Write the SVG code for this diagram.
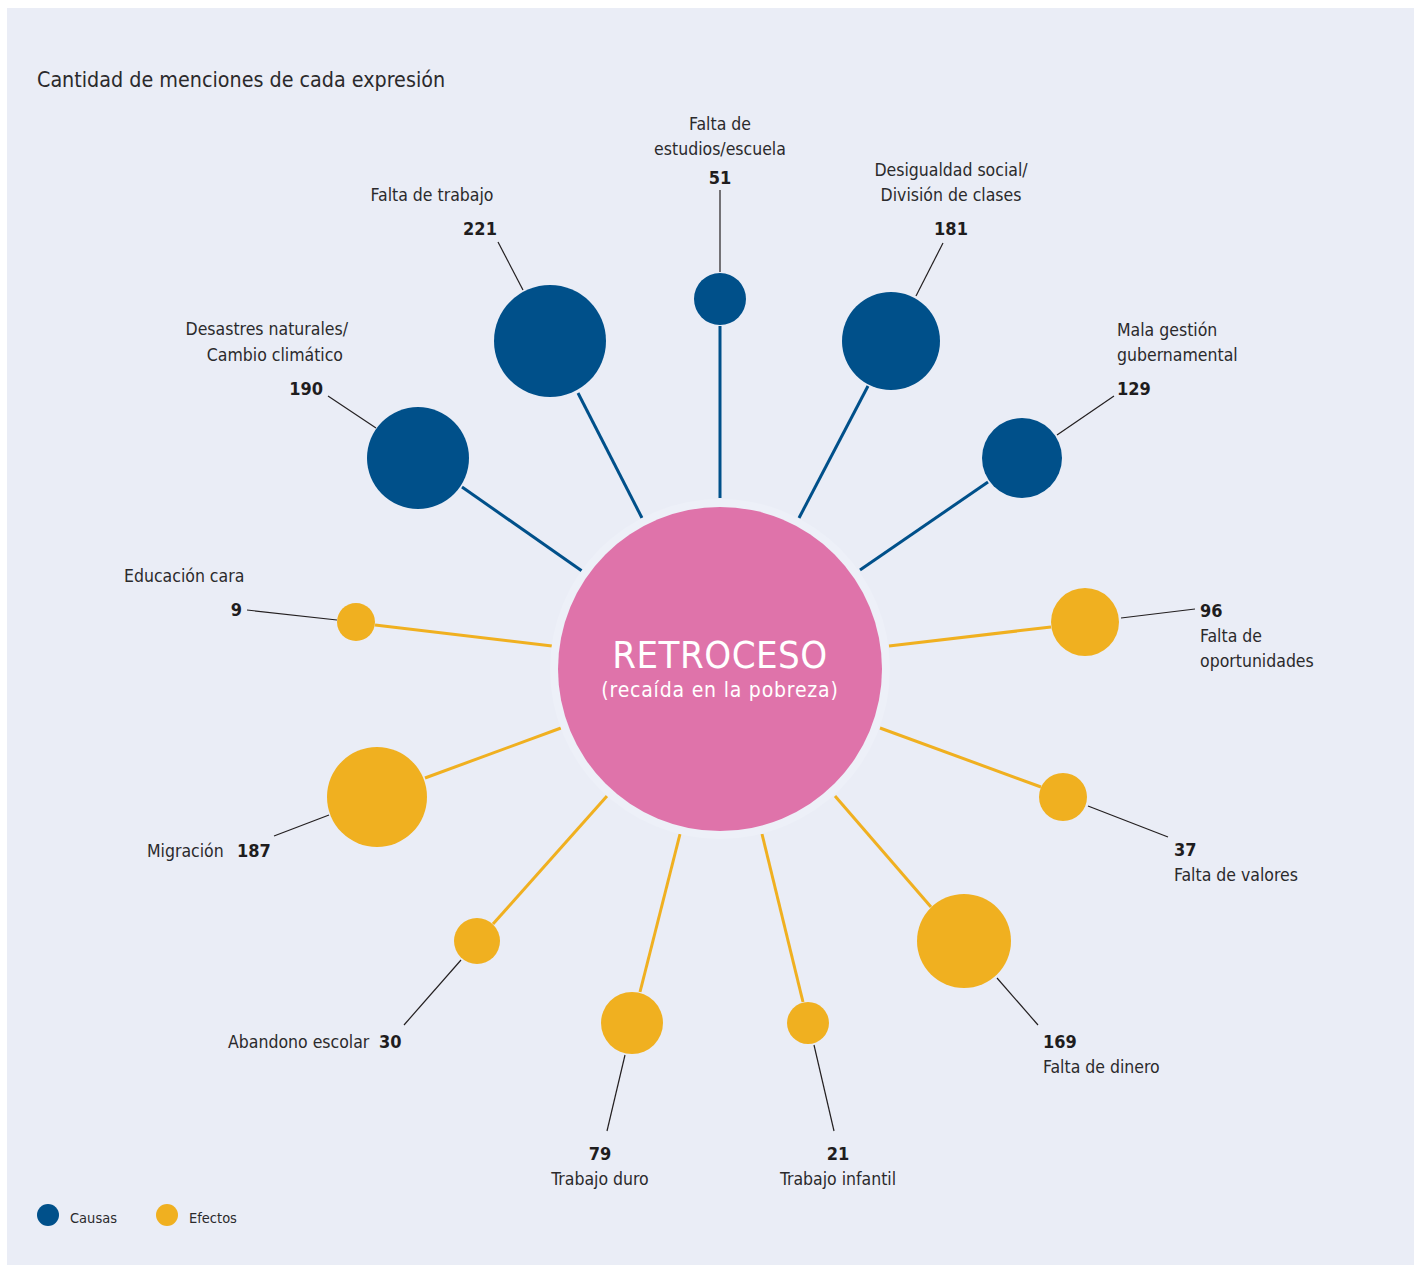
<svg xmlns="http://www.w3.org/2000/svg" width="1414" height="1268" viewBox="0 0 1414 1268">
<style>
.t{font-family:"Liberation Sans Narrow","DejaVu Sans Condensed","Liberation Sans",sans-serif;font-size:17.5px;fill:#2b2a2c}
.n{font-family:"Liberation Sans Narrow","DejaVu Sans Condensed","Liberation Sans",sans-serif;font-size:18px;font-weight:bold;fill:#1f1d1e}
.m{text-anchor:middle}.e{text-anchor:end}
.c{fill:#00508A}.y{fill:#F0B020}
.lc{stroke:#00508A;stroke-width:3;fill:none}
.ly{stroke:#F0B020;stroke-width:3;fill:none}
.ld{stroke:#231F20;stroke-width:1.2;fill:none}
.w{font-family:"Liberation Sans Narrow","DejaVu Sans Condensed","Liberation Sans",sans-serif;fill:#ffffff;text-anchor:middle}
</style>
<rect x="0" y="0" width="1414" height="1268" fill="#ffffff"/>
<rect x="7" y="8" width="1407" height="1257" fill="#EAEDF6"/>
<text class="t" x="37" y="87" style="font-size:21.3px">Cantidad de menciones de cada expresión</text>
<g id="connectors">
<line class="lc" x1="578" y1="393" x2="642" y2="518"/>
<line class="lc" x1="720" y1="326" x2="720" y2="498"/>
<line class="lc" x1="868" y1="386" x2="799" y2="518"/>
<line class="lc" x1="988" y1="482" x2="860" y2="570"/>
<line class="lc" x1="462" y1="487" x2="582" y2="571"/>
<line class="ly" x1="375" y1="625" x2="552" y2="646"/>
<line class="ly" x1="1051" y1="627" x2="889" y2="646"/>
<line class="ly" x1="425" y1="778" x2="561" y2="728"/>
<line class="ly" x1="1041" y1="787" x2="880" y2="728"/>
<line class="ly" x1="493" y1="924" x2="607" y2="796"/>
<line class="ly" x1="931" y1="907" x2="835" y2="796"/>
<line class="ly" x1="640" y1="992" x2="680" y2="834"/>
<line class="ly" x1="803" y1="1002" x2="762" y2="834"/>
<line class="ld" x1="498" y1="242" x2="523" y2="290"/>
<line class="ld" x1="720" y1="190" x2="720" y2="272"/>
<line class="ld" x1="943" y1="243" x2="916" y2="296"/>
<line class="ld" x1="1114" y1="396" x2="1057" y2="435"/>
<line class="ld" x1="328" y1="396" x2="376" y2="428"/>
<line class="ld" x1="247" y1="610" x2="337" y2="620"/>
<line class="ld" x1="1121" y1="618" x2="1195" y2="609"/>
<line class="ld" x1="274" y1="836" x2="329" y2="815"/>
<line class="ld" x1="1088" y1="806" x2="1168" y2="837"/>
<line class="ld" x1="404" y1="1025" x2="461" y2="960"/>
<line class="ld" x1="997" y1="978" x2="1038" y2="1025"/>
<line class="ld" x1="625" y1="1055" x2="607" y2="1131"/>
<line class="ld" x1="814" y1="1045" x2="834" y2="1131"/>
</g>
<g id="center">
<circle cx="720" cy="669" r="170" fill="#EDF0F8"/>
<circle cx="720" cy="669" r="162" fill="#DF73AA"/>
<text class="w" x="720" y="668" font-size="38" letter-spacing="0.5">RETROCESO</text>
<text class="w" x="720" y="697" font-size="21" letter-spacing="0.8">(recaída en la pobreza)</text>
</g>
<g id="falta-trabajo"><circle class="c" cx="550" cy="341" r="56"/><text class="t m" x="432" y="201">Falta de trabajo</text><text class="n m" x="480" y="235">221</text></g>
<g id="falta-estudios"><circle class="c" cx="720" cy="299" r="26"/><text class="t m" x="720" y="130">Falta de</text><text class="t m" x="720" y="155">estudios/escuela</text><text class="n m" x="720" y="184">51</text></g>
<g id="desigualdad"><circle class="c" cx="891" cy="341" r="49"/><text class="t m" x="951" y="176">Desigualdad social/</text><text class="t m" x="951" y="201">División de clases</text><text class="n m" x="951" y="235">181</text></g>
<g id="mala-gestion"><circle class="c" cx="1022" cy="458" r="40"/><text class="t" x="1117" y="336">Mala gestión</text><text class="t" x="1117" y="361">gubernamental</text><text class="n" x="1117" y="395">129</text></g>
<g id="desastres"><circle class="c" cx="418" cy="458" r="51"/><text class="t e" x="348" y="335">Desastres naturales/</text><text class="t e" x="343" y="361">Cambio climático</text><text class="n e" x="323" y="395">190</text></g>
<g id="educacion"><circle class="y" cx="356" cy="622" r="19"/><text class="t" x="124" y="582">Educación cara</text><text class="n e" x="242" y="616">9</text></g>
<g id="oportunidades"><circle class="y" cx="1085" cy="622" r="34"/><text class="n" x="1200" y="617">96</text><text class="t" x="1200" y="642">Falta de</text><text class="t" x="1200" y="667">oportunidades</text></g>
<g id="migracion"><circle class="y" cx="377" cy="797" r="50"/><text class="t" x="147" y="857">Migración</text><text class="n" x="237" y="857">187</text></g>
<g id="valores"><circle class="y" cx="1063" cy="797" r="24"/><text class="n" x="1174" y="856">37</text><text class="t" x="1174" y="881">Falta de valores</text></g>
<g id="abandono"><circle class="y" cx="477" cy="941" r="23"/><text class="t" x="228" y="1048">Abandono escolar</text><text class="n" x="379" y="1048">30</text></g>
<g id="dinero"><circle class="y" cx="964" cy="941" r="47"/><text class="n" x="1043" y="1048">169</text><text class="t" x="1043" y="1073">Falta de dinero</text></g>
<g id="trabajo-duro"><circle class="y" cx="632" cy="1023" r="31"/><text class="n m" x="600" y="1160">79</text><text class="t m" x="600" y="1185">Trabajo duro</text></g>
<g id="trabajo-infantil"><circle class="y" cx="808" cy="1023" r="21"/><text class="n m" x="838" y="1160">21</text><text class="t m" x="838" y="1185">Trabajo infantil</text></g>
<g id="legend">
<circle class="c" cx="48" cy="1215" r="11"/><text class="t" x="70" y="1223" style="font-size:14.5px">Causas</text>
<circle class="y" cx="167" cy="1215" r="11"/><text class="t" x="189" y="1223" style="font-size:14.5px">Efectos</text>
</g>
</svg>
